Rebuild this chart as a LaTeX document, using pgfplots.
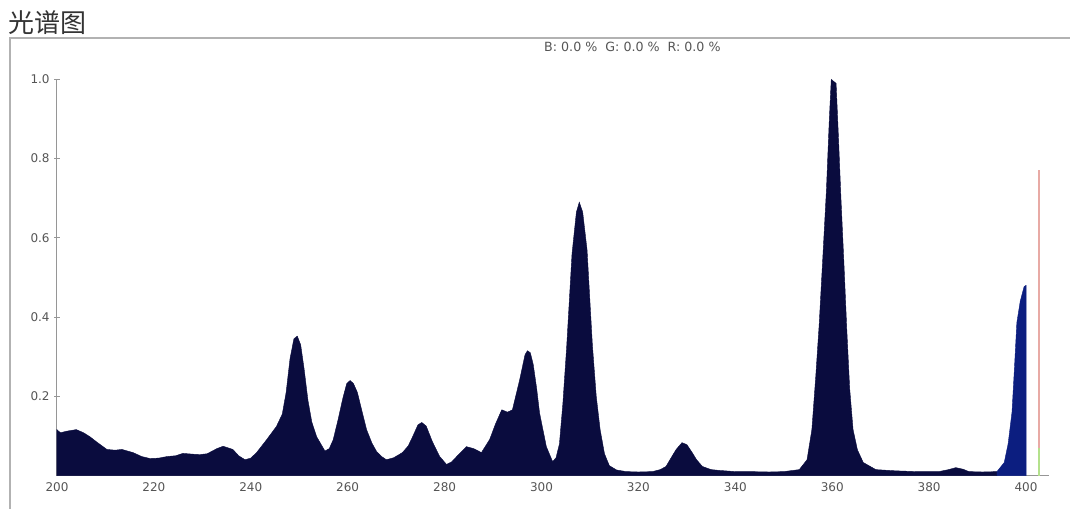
\documentclass[border=0pt]{standalone}
\usepackage{pgfplots}
\pgfplotsset{compat=1.18}
\usepackage{pgfplotstable}
\usepackage{fontspec}
\setmainfont{DejaVu Sans}
\newfontfamily\cjk{Noto Sans CJK SC}

\definecolor{navy}{RGB}{10,12,62}
\definecolor{peakblue}{RGB}{12,30,128}
\definecolor{framegray}{RGB}{178,178,178}
\definecolor{axisgray}{RGB}{150,150,150}
\definecolor{labelgray}{RGB}{85,85,85}
\definecolor{redline}{RGB}{232,170,165}
\definecolor{greenline}{RGB}{180,225,140}

% spectrum, dark part
\pgfplotstableread{
x y
200 0.116
200.7 0.108
202 0.112
204 0.116
205.5 0.108
206.8 0.098
208.5 0.082
210.3 0.066
212 0.064
213.4 0.066
215.7 0.058
217.5 0.048
219.2 0.043
221 0.044
222.7 0.048
224.5 0.050
226 0.056
228 0.054
229.5 0.053
231 0.055
233 0.068
234.3 0.074
236.3 0.066
237.5 0.050
238.8 0.040
240 0.044
241.2 0.058
243.3 0.091
245.3 0.124
246.5 0.155
247.3 0.210
248.1 0.295
248.9 0.345
249.6 0.352
250.3 0.330
251 0.270
251.8 0.190
252.6 0.135
253.6 0.098
255.3 0.062
256.2 0.068
257 0.090
258 0.140
259 0.195
259.8 0.232
260.5 0.240
261.2 0.232
262 0.210
263 0.160
263.9 0.116
265 0.082
266 0.060
267 0.048
268 0.040
269.5 0.045
271.3 0.058
272.5 0.075
273.4 0.098
274.5 0.128
275.3 0.134
276.2 0.125
277.5 0.085
279 0.048
280.4 0.028
281.5 0.035
282.5 0.048
284.5 0.073
286 0.068
287.6 0.058
289.3 0.091
290.5 0.130
291.8 0.166
293 0.160
294 0.166
295.5 0.242
296.6 0.305
297.1 0.315
297.7 0.310
298.3 0.280
299 0.220
299.6 0.158
301 0.073
302.3 0.035
303 0.045
303.7 0.080
304.4 0.180
305.2 0.326
306.3 0.560
307.2 0.665
307.8 0.690
308.5 0.665
309.4 0.570
310.5 0.330
311.3 0.200
312.1 0.116
313 0.055
314 0.025
315.5 0.014
317.5 0.010
320 0.009
322.9 0.010
324.5 0.015
325.7 0.023
327 0.050
327.8 0.066
329 0.083
330 0.078
331.1 0.058
332 0.040
333.2 0.023
335 0.015
336.7 0.013
340 0.010
343 0.010
347 0.009
350 0.010
353.2 0.015
354.8 0.040
355.8 0.116
356.6 0.250
357.3 0.380
358.1 0.560
358.8 0.720
359.4 0.900
359.8 1.000
360.8 0.990
361.3 0.850
361.8 0.700
362.4 0.540
363 0.370
363.6 0.220
364.3 0.116
365.2 0.065
366.4 0.033
369 0.015
373 0.012
377.3 0.010
382 0.010
384 0.015
385.5 0.020
387 0.016
388.2 0.010
391 0.009
394 0.010
}\darkpart

% spectrum, blue end near 400
\pgfplotstableread{
x y
394 0.010
395.5 0.033
396.3 0.080
397.1 0.160
397.6 0.270
398.1 0.386
398.8 0.440
399.6 0.477
400 0.480
}\bluepart

\begin{document}
\begin{tikzpicture}
\begin{axis}[
    at={(0,0)}, anchor=south west,
    scale only axis,
    width=744.6pt, height=297.4pt,
    xmin=200, xmax=404.7,
    ymin=0, ymax=1.0,
    clip=false,
    axis lines=left,
    axis line style={-, draw=axisgray, line width=0.8pt},
    xtick={200,220,...,400},
    ytick={0.2,0.4,0.6,0.8,1.0},
    yticklabel style={/pgf/number format/.cd, fixed, fixed zerofill, precision=1},
    /pgf/number format/assume math mode=true,
    ticklabel style={font=\fontsize{9}{10.8}\selectfont, text=labelgray},
    xtick style={draw=none},
    ytick style={draw=axisgray, line width=0.6pt},
    tick align=center,
    major tick length=4pt,
]
\addplot[fill=navy, draw=navy, line width=0.3pt] table[x=x, y=y] {\darkpart} \closedcycle;
\addplot[fill=peakblue, draw=peakblue, line width=0.3pt] table[x=x, y=y] {\bluepart} \closedcycle;
\addplot[draw=redline, line width=1pt] coordinates {(402.7,0.07) (402.7,0.772)};
\addplot[draw=greenline, line width=1pt] coordinates {(402.7,0) (402.7,0.07)};
\end{axis}
% frame, title and channel readout (1 px = 0.75pt, origin at x=200,y=0)
\draw[framegray, line width=1.5pt] (-35.25pt,-24.75pt) -- (-35.25pt,328.5pt) -- (760.5pt,328.5pt);
\node[anchor=south west, inner sep=0pt, text=black!80] at (-36.75pt,331pt)
    {\cjk\fontsize{19.5}{21}\selectfont 光谱图};
\node[inner sep=0pt, text=labelgray] at (432pt,321.75pt)
    {\fontsize{9.5}{11}\selectfont B: 0.0 \%\ \ G: 0.0 \%\ \ R: 0.0 \%};
\path (-42.75pt,-24.75pt) rectangle (760.5pt,357pt);
\end{tikzpicture}
\end{document}
